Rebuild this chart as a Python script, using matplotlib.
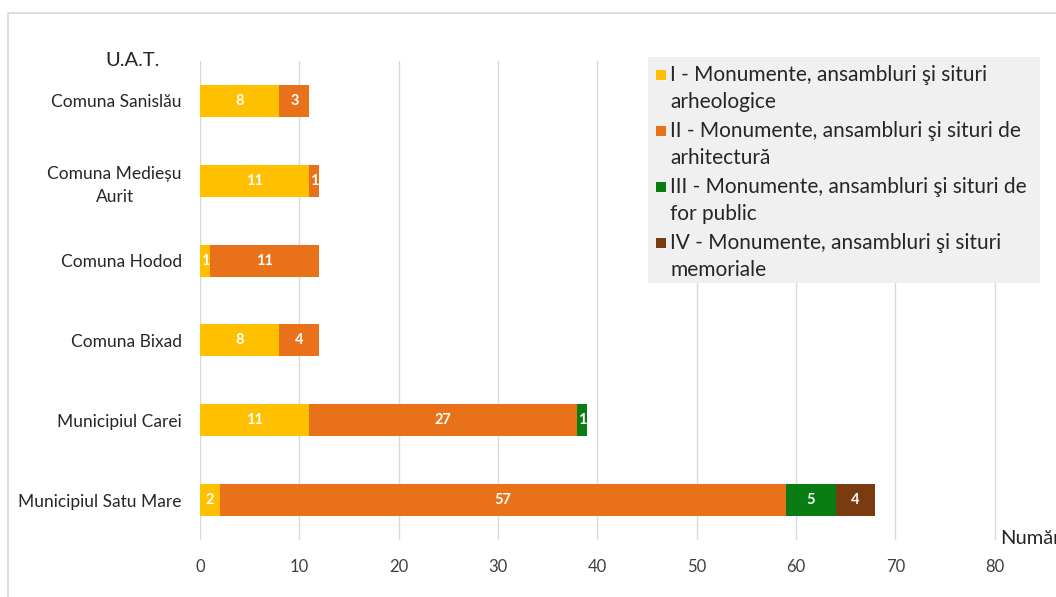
import matplotlib.pyplot as plt
import numpy as np
from matplotlib.patches import Rectangle

plt.rcParams["font.family"] = ["Lato", "DejaVu Sans"]

# bottom -> top, as drawn
UAT = [
    "Municipiul Satu Mare",
    "Municipiul Carei",
    "Comuna Bixad",
    "Comuna Hodod",
    "Comuna Medieșu\nAurit",
    "Comuna Sanislău",
]
CAT_I = [2, 11, 8, 1, 11, 8]
CAT_II = [57, 27, 4, 11, 1, 3]
CAT_III = [5, 1, 0, 0, 0, 0]
CAT_IV = [4, 0, 0, 0, 0, 0]

SERIES = [
    ("I - Monumente, ansambluri şi situri\narheologice", CAT_I, "#FFC000"),
    ("II - Monumente, ansambluri şi situri de\narhitectură", CAT_II, "#E8711A"),
    ("III - Monumente, ansambluri şi situri de\nfor public", CAT_III, "#0A7D12"),
    ("IV - Monumente, ansambluri şi situri\nmemoriale", CAT_IV, "#7A3B10"),
]
XTICKS = [0, 10, 20, 30, 40, 50, 60, 70, 80]

W, H = 1056, 597


def fx(px):
    return px / W


def fy(py):
    return 1 - py / H


fig = plt.figure(figsize=(W / 100, H / 100), dpi=100)
# chart-area frame (right and bottom edges fall outside the crop)
fig.patches.append(Rectangle((fx(8), -0.1), 1.2, fy(13) + 0.1,
                             transform=fig.transFigure, fill=False,
                             edgecolor="#d9d9d9", linewidth=1.2))
ax = fig.add_axes([fx(200), 57 / H, 894 / W, 479 / H])

y = np.arange(len(UAT))
left = np.zeros(len(UAT))
for label, vals, color in SERIES:
    vals = np.array(vals, dtype=float)
    ax.barh(y, vals, left=left, height=0.4, color=color, label=label, zorder=3)
    for yi, (l, v) in enumerate(zip(left, vals)):
        if v > 0:
            ax.text(l + v / 2, yi, f"{int(v)}", ha="center", va="center",
                    color="white", fontsize=10.5, fontweight="bold", zorder=4)
    left += vals

ax.set_xlim(0, 90)
ax.set_ylim(-0.5, len(UAT) - 0.5)
ax.set_xticks(XTICKS)
ax.set_xticklabels([str(t) for t in XTICKS], fontsize=12, color="#404040")
ax.set_yticks(y)
ax.set_yticklabels(UAT, fontsize=12.5, color="#262626", multialignment="center",
                   linespacing=1.5)
ax.tick_params(axis="both", length=0)
ax.tick_params(axis="y", pad=13)
ax.tick_params(axis="x", pad=14)
ax.grid(axis="x", color="#d9d9d9", linewidth=1, zorder=0)
for s in ax.spines.values():
    s.set_visible(False)

fig.text(fx(133), fy(60), "U.A.T.", fontsize=14.5, color="#262626",
         ha="center", va="center")
# cut off at the right edge, as in the original crop
fig.text(fx(1000), fy(538), "Număr", fontsize=14.5, color="#262626",
         ha="left", va="center")

# legend box drawn by hand so the swatch sits on the first text line
fig.patches.append(Rectangle((fx(648), fy(283)), fx(1040) - fx(648),
                             fy(57) - fy(283), transform=fig.transFigure,
                             facecolor="#f0f0f0", edgecolor="none", zorder=5))
for i, (label, _, color) in enumerate(SERIES):
    yc = 75 + 56 * i
    fig.patches.append(Rectangle((fx(656), fy(yc + 5)), 10 / W, 10 / H,
                                 transform=fig.transFigure, facecolor=color,
                                 edgecolor="none", zorder=6))
    fig.text(fx(670), fy(yc - 10), label, fontsize=15, color="#262626",
             ha="left", va="top", linespacing=1.45, zorder=7,
             transform=fig.transFigure)

fig.savefig("out.png", dpi=100)
